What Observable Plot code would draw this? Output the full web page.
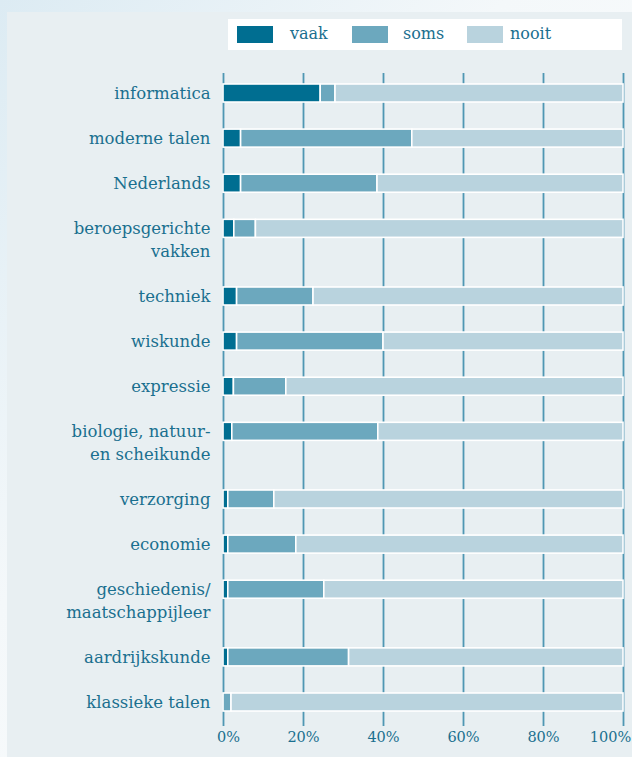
<!DOCTYPE html>
<html>
<head>
<meta charset="utf-8">
<script src="https://cdn.jsdelivr.net/npm/d3@7"></script>
<script src="https://cdn.jsdelivr.net/npm/@observablehq/plot@0.6"></script>
<style>
  html, body { margin: 0; padding: 0; }
  body {
    width: 632px; height: 757px; position: relative; overflow: hidden;
    background: linear-gradient(to bottom right, #dcebf3 0%, #f4f8fa 40%, #ffffff 100%);
    font-family: "DejaVu Serif", serif;
  }
  #panel { position: absolute; left: 7px; top: 12px; right: 0; bottom: 0; background: #e8eff2; }
  #legend {
    position: absolute; left: 228px; top: 19px; width: 394px; height: 31px; background: #ffffff;
  }
  .sw { position: absolute; top: 7px; width: 36px; height: 17px; }
  .lt { position: absolute; top: 3px; font-size: 16px; color: #1a6f8f; line-height: 24px; }
  #chart { position: absolute; left: 0; top: 0; }
</style>
</head>
<body>
<div id="panel"></div>
<div id="chart"></div>
<div id="legend"></div>
<script>
const subjects = ["informatica", "moderne talen", "Nederlands", "beroepsgerichte\nvakken", "techniek", "wiskunde", "expressie", "biologie, natuur-\nen scheikunde", "verzorging", "economie", "geschiedenis/\nmaatschappijleer", "aardrijkskunde", "klassieke talen"];
const vaak  = [24.3, 4.4, 4.4, 2.7, 3.4, 3.4, 2.6, 2.2, 1.2, 1.2, 1.2, 1.2, 0];
const soms  = [3.7, 42.8, 34.1, 5.4, 19.1, 36.6, 13.1, 36.5, 11.5, 17.0, 24.0, 30.2, 2.0];
const nooit = [72.0, 52.8, 61.5, 91.9, 77.5, 60.0, 84.3, 61.3, 87.3, 81.8, 74.8, 68.6, 98.0];
const seriesNames = ["vaak", "soms", "nooit"];
const seriesColors = ["#006e91", "#6ca8be", "#b9d3de"];
const xTicks = [0, 20, 40, 60, 80, 100];
const tickLabels = ["0%", "20%", "40%", "60%", "80%", "100%"];

const textColor = "#1a6f8f";

// row positions: two-line labels take an extra half row
const rows = [];
let p = 0;
subjects.forEach((s, i) => {
  const lines = s.split("\n");
  rows.push({subject: s, line1: lines[0], line2: lines[1] || "", pos: p});
  p += lines.length > 1 ? 1.5 : 1;
});

// stacked segments
const segs = [];
const seriesVals = [vaak, soms, nooit];
rows.forEach((r, i) => {
  let acc = 0;
  seriesVals.forEach((vals, k) => {
    const v = vals[i];
    if (v > 0) segs.push({series: seriesNames[k], x1: acc, x2: acc + v, pos: r.pos});
    acc += v;
  });
});

const half = 0.2;
const chart = Plot.plot({
  width: 632,
  height: 757,
  marginTop: 73,
  marginBottom: 31,
  marginLeft: 223,
  marginRight: 9,
  style: {background: "transparent", fontFamily: "DejaVu Serif, serif"},
  x: {domain: [0, 100], range: [223, 623], axis: null},
  y: {domain: [0, 13.5], range: [93, 702], axis: null},
  color: {domain: seriesNames, range: seriesColors},
  marks: [
    Plot.ruleX(xTicks, {x: d => d, stroke: "#4f97b3", strokeWidth: 1.8}),
    Plot.rect(segs, {x1: "x1", x2: "x2", y1: d => d.pos - half, y2: d => d.pos + half, fill: "series", stroke: "#ffffff", strokeWidth: 1.6}),
    Plot.text(rows, {x: 0, y: "pos", text: "line1", textAnchor: "end", dx: -13, fill: textColor, fontSize: 16.5}),
    Plot.text(rows, {x: 0, y: "pos", text: "line2", textAnchor: "end", dx: -13, dy: 23, fill: textColor, fontSize: 16.5}),
    Plot.text(xTicks.slice(0, 1), {x: d => d, text: (d, i) => tickLabels[0], frameAnchor: "bottom", dy: 15, dx: 5, fill: textColor, fontSize: 14.5}),
    Plot.text(xTicks.slice(1, 5), {x: d => d, text: (d, i) => tickLabels[i + 1], frameAnchor: "bottom", dy: 15, fill: textColor, fontSize: 14.5}),
    Plot.text(xTicks.slice(5), {x: d => d, text: (d, i) => tickLabels[5], frameAnchor: "bottom", dy: 15, dx: -13, fill: textColor, fontSize: 14.5})
  ]
});
document.getElementById("chart").appendChild(chart);

// legend
const legend = document.getElementById("legend");
const swX = [9, 124, 239];
const txX = [62, 175, 282];
seriesNames.forEach((n, k) => {
  const sw = document.createElement("div");
  sw.className = "sw";
  sw.style.left = swX[k] + "px";
  sw.style.background = seriesColors[k];
  legend.appendChild(sw);
  const t = document.createElement("div");
  t.className = "lt";
  t.style.left = txX[k] + "px";
  t.textContent = n;
  legend.appendChild(t);
});
</script>
</body>
</html>
